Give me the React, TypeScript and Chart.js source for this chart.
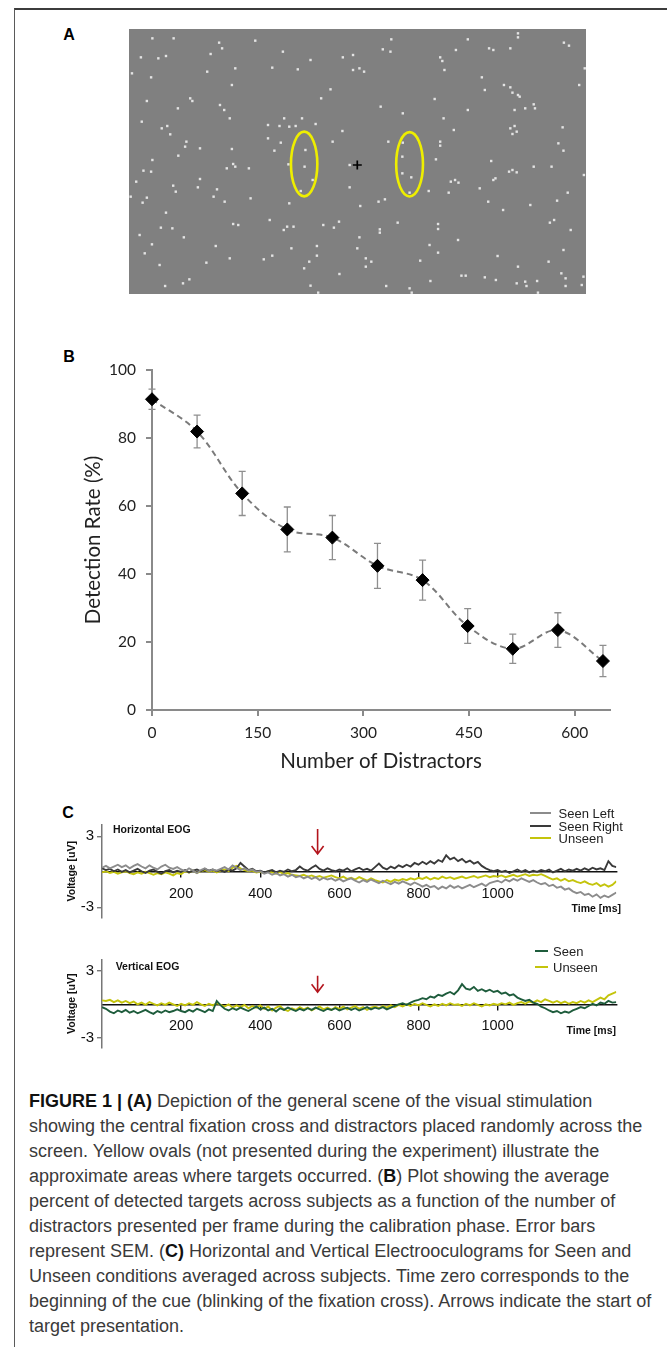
import React, { useEffect, useRef } from "react";
import { Chart, registerables } from "chart.js";

Chart.register(...registerables);

// ---------------- Panel A: stimulus scene (image coordinates of the screenshot) ----------------
const sceneXRange = [303, 1378];
const sceneYRange = [87, 882];
const distractorDots: [number, number][] = [
  [358, 115], [408, 115], [600, 122], [515, 128], [522, 145], [920, 118], [1100, 118], [1218, 100], [1218, 112], [1326, 128], [1338, 137],
  [665, 155], [495, 162], [900, 148], [918, 155], [1072, 150], [1150, 145], [1160, 150], [1200, 145], [806, 172], [830, 165], [331, 172], [372, 175], [390, 168], [730, 180], [1035, 172], [1040, 183],
  [310, 220], [487, 215], [553, 205], [640, 203], [700, 208], [830, 210], [845, 205], [856, 215], [1045, 210], [1375, 205],
  [355, 232], [1133, 232], [545, 255], [777, 268], [1140, 270], [1185, 255], [1200, 262], [1205, 278], [1218, 285], [1222, 290], [1362, 255],
  [345, 303], [447, 295], [452, 303], [755, 295], [1022, 297], [517, 315], [527, 330], [418, 325], [895, 320], [1100, 330], [1210, 330], [1235, 325], [1255, 313], [1258, 325],
  [540, 355], [333, 365], [630, 375], [657, 378], [668, 355], [680, 380], [695, 378], [710, 355], [742, 372], [947, 340], [1043, 355], [1200, 385], [1210, 378], [1215, 395], [1205, 402], [1323, 382], [380, 385], [393, 378], [400, 403], [805, 393], [1067, 390],
  [438, 425], [435, 440], [630, 415], [660, 428], [782, 425], [913, 425], [947, 428], [1035, 425], [1035, 437], [1313, 430], [1325, 452], [470, 445], [545, 447], [645, 452], [718, 450], [419, 467],
  [358, 480], [548, 492], [553, 500], [533, 505], [585, 505], [678, 493], [716, 500], [822, 495], [1025, 478], [1155, 483], [1197, 515], [1205, 510], [1215, 517], [1255, 500], [1297, 500], [1373, 525], [337, 512], [355, 515],
  [946, 470], [946, 520], [967, 532], [963, 578], [707, 573],
  [320, 545], [470, 537], [465, 562], [735, 540], [1060, 545], [1070, 540], [1078, 548], [1165, 535], [1160, 540], [822, 562], [407, 557], [413, 575], [510, 568], [502, 590], [1128, 565],
  [1008, 573], [1055, 578], [1335, 578], [307, 590], [345, 593], [335, 608], [528, 605], [589, 595], [680, 610], [890, 605], [905, 598], [847, 618], [1148, 605], [1247, 615], [1310, 602],
  [390, 638], [634, 660], [1183, 630], [548, 672], [560, 675], [760, 675], [785, 683], [797, 665], [667, 690], [675, 680], [690, 680], [893, 688], [893, 698], [935, 668], [1030, 672], [1030, 687], [1293, 668], [1303, 660], [378, 683], [405, 685], [1342, 690],
  [328, 705], [432, 712], [845, 712], [1077, 720], [357, 733], [507, 738], [685, 745], [745, 738], [745, 767], [840, 745], [1010, 735], [1325, 750], [1030, 758], [340, 760],
  [540, 775], [620, 778], [640, 767], [727, 785], [860, 775], [860, 800], [873, 785], [988, 782], [1170, 768], [1290, 785], [375, 795], [485, 788],
  [715, 805], [1218, 800], [798, 822], [1085, 827], [1095, 827], [1140, 832], [1320, 820], [1330, 835], [1372, 830], [1368, 855], [1012, 843], [1166, 840], [430, 850], [445, 838], [388, 858], [730, 857], [1215, 850], [1235, 845], [1238, 858], [1263, 843], [1330, 858], [908, 858], [963, 865],
  [748, 878], [968, 878], [1265, 878],
];
const fixationCross: [number, number][] = [[840, 495]];
// target regions: centre x, centre y, half-width, half-height (image coordinates)
const targetRegions: [number, number, number, number][] = [
  [715, 492, 31, 97],
  [963, 493, 31.5, 96.5],
];

// ---------------- Panel B: detection rate ----------------
const distractorCounts = [0, 64, 128, 192, 256, 320, 384, 448, 512, 576, 640];
const detectionRate = [91.4, 81.9, 63.7, 53.1, 50.7, 42.4, 38.2, 24.7, 18.0, 23.5, 14.4];
const detectionSem = [3.0, 4.8, 6.5, 6.6, 6.5, 6.6, 5.9, 5.1, 4.3, 5.1, 4.6];
const rateTicks = [0, 20, 40, 60, 80, 100];
const distractorTicks = [0, 150, 300, 450, 600];

// ---------------- Panel C: EOG traces (µV, sampled every 10 ms from 0 ms) ----------------
const eogStartMs = 0;
const eogStepMs = 10;
const eogTimeTicks = [200, 400, 600, 800, 1000];
const eogVoltTicks = [-3, 3];
const targetOnsetMs = 545;

const hSeenLeft = [
  0.35, 0.5, 0.3, 0.45, 0.6, 0.4, 0.55, 0.3, 0.5, 0.65,
  0.45, 0.3, 0.55, 0.35, 0.2, 0.45, 0.6, 0.35, 0.25, 0.4,
  0.2, 0.05, 0.3, 0.1, -0.1, 0.15, 0.3, 0.05, 0.2, 0.1,
  0.25, 0.4, 0.2, 0.55, 0.35, 0.15, 0.3, 0.1, 0.2, 0.0,
  0.05, -0.15, -0.05, -0.25, -0.1, -0.3, -0.2, -0.4, -0.25, -0.45,
  -0.35, -0.55, -0.4, -0.6, -0.45, -0.7, -0.5, -0.65, -0.55, -0.75,
  -0.6, -0.8, -0.65, -0.55, -0.75, -0.9, -0.7, -0.85, -0.65, -0.8,
  -0.95, -0.75, -0.9, -1.05, -0.85, -1.0, -0.8, -0.95, -1.1, -0.9,
  -1.05, -1.25, -1.1, -1.3, -1.2, -1.45, -1.25, -1.4, -1.15, -1.35,
  -1.2, -1.4, -1.25, -1.1, -1.3, -1.15, -1.0, -1.2, -0.95, -0.85,
  -0.75, -0.9, -0.65, -0.8, -0.6, -0.75, -0.55, -0.7, -0.85, -0.7,
  -0.9, -1.05, -0.95, -1.2, -1.1, -1.35, -1.25, -1.5, -1.4, -1.65,
  -1.8, -1.7, -1.95, -1.85, -2.1, -1.9, -2.2, -2.0, -2.15, -1.95, -1.75,
];
const hSeenRight = [
  0.3, 0.15, 0.25, 0.05, 0.2, 0.0, 0.15, -0.05, 0.1, 0.25,
  0.05, -0.1, 0.1, 0.2, 0.0, -0.15, 0.05, 0.15, -0.05, 0.1,
  0.0, 0.15, -0.05, 0.1, 0.2, 0.05, 0.25, 0.1, 0.2, 0.05,
  0.15, 0.0, 0.2, 0.1, 0.3, 0.75, 0.45, 0.15, 0.25, 0.05,
  0.1, -0.05, 0.05, 0.15, -0.05, 0.1, 0.0, 0.2, 0.05, 0.15,
  0.45, 0.2, 0.1, 0.35, 0.55, 0.25, 0.1, 0.3, 0.15, 0.05,
  0.2, 0.1, 0.3, 0.05, 0.2, 0.35, 0.15, 0.25, 0.1, 0.4,
  0.7, 0.35, 0.2, 0.45, 0.3, 0.55, 0.4, 0.6, 0.45, 0.75,
  0.6, 0.85, 0.65, 0.9, 0.7, 1.0, 0.85, 1.4, 1.05, 1.2,
  0.9, 1.1, 0.8, 0.95, 0.7, 0.85, 0.5, 0.3, 0.15, 0.05,
  0.15, 0.0, 0.1, -0.1, 0.05, 0.2, 0.0, 0.15, -0.05, 0.1,
  0.0, 0.15, 0.05, 0.2, -0.05, 0.1, 0.25, 0.05, 0.2, 0.1,
  0.25, 0.1, 0.3, 0.15, 0.35, 0.2, 0.3, 0.15, 0.9, 0.5, 0.4,
];
const hUnseen = [
  -0.05, 0.05, -0.1, 0.0, -0.15, -0.05, 0.05, -0.1, -0.2, -0.05,
  -0.15, 0.0, -0.1, -0.25, -0.1, -0.2, -0.05, -0.15, -0.3, -0.1,
  -0.2, 0.05, -0.05, 0.1, -0.1, 0.05, 0.15, 0.0, 0.1, -0.05,
  0.1, 0.2, 0.05, 0.35, 0.5, 0.3, 0.15, 0.05, 0.1, -0.05,
  0.0, -0.1, 0.05, -0.05, -0.15, 0.0, -0.2, -0.1, -0.25, -0.3,
  -0.35, -0.25, -0.4, -0.3, -0.45, -0.35, -0.5, -0.4, -0.3, -0.45,
  -0.55, -0.4, -0.6, -0.5, -0.65, -0.45, -0.6, -0.75, -0.55, -0.7,
  -0.8, -0.9, -0.7, -0.85, -0.65, -0.75, -0.6, -0.7, -0.55, -0.65,
  -0.5, -0.6, -0.45, -0.65, -0.5, -0.6, -0.4, -0.55, -0.45, -0.6,
  -0.5, -0.4, -0.55, -0.45, -0.35, -0.5, -0.4, -0.3, -0.45, -0.35,
  -0.4, -0.3, -0.45, -0.35, -0.25, -0.4, -0.3, -0.2, -0.35, -0.25,
  -0.3, -0.2, -0.35, -0.5, -0.65, -0.55, -0.75, -0.6, -0.8, -0.7,
  -0.85, -0.95, -0.8, -1.0, -1.1, -0.95, -1.2, -1.05, -1.25, -1.1, -0.8,
];
const vSeen = [
  -0.25, -0.4, -0.65, -0.8, -0.55, -0.7, -0.5, -0.75, -0.6, -0.8,
  -0.65, -0.5, -0.7, -0.85, -0.6, -0.75, -0.55, -0.7, -0.6, -0.45,
  -0.6, -0.7, -0.5, -0.65, -0.4, -0.55, -0.7, -0.45, -0.6, 0.3,
  -0.1, -0.4, -0.55, -0.35, -0.5, -0.3, -0.45, -0.6, -0.4, -0.2,
  -0.45, -0.3, -0.55, -0.4, -0.65, -0.35, -0.5, -0.3, -0.45, -0.6,
  -0.4, -0.55, -0.35, -0.5, -0.3, -0.45, -0.6, -0.4, -0.5, -0.35,
  -0.55, -0.4, -0.3, -0.5, -0.35, -0.55, -0.4, -0.25, -0.45, -0.3,
  -0.4, -0.25, -0.45, -0.3, -0.15, 0.0, 0.1, -0.05, 0.15, 0.3,
  0.4, 0.55, 0.45, 0.7, 0.6, 0.85, 0.75, 0.95, 1.1, 0.9,
  1.25, 1.8, 1.4, 1.3, 1.55, 1.2, 1.35, 1.15, 1.3, 1.1,
  1.2, 0.95, 1.05, 0.8, 0.9, 0.6, 0.45, 0.3, 0.4, 0.15,
  0.05, -0.2, -0.35, -0.55, -0.7, -0.6, -0.8, -0.65, -0.75, -0.55,
  -0.4, -0.25, -0.35, -0.15, 0.05, -0.1, 0.15, 0.05, 0.3, 0.15, 0.2,
];
const vUnseen = [
  0.35, 0.3, 0.4, 0.2, 0.35, 0.15, 0.3, 0.1, 0.25, 0.0,
  0.15, -0.05, 0.2, 0.05, -0.1, 0.1, -0.05, 0.15, 0.0, -0.15,
  0.05, -0.1, 0.1, -0.05, 0.2, 0.0, -0.15, 0.05, -0.1, 0.1,
  -0.05, -0.2, 0.0, -0.3, -0.1, -0.25, -0.05, -0.35, -0.15, -0.3,
  -0.1, -0.4, -0.2, -0.55, -0.3, -0.15, -0.45, -0.6, -0.35, -0.5,
  -0.25, -0.45, -0.3, -0.55, -0.35, -0.2, -0.45, -0.3, -0.5, -0.25,
  -0.4, -0.2, -0.45, -0.3, -0.15, -0.4, -0.25, -0.5, -0.3, -0.2,
  -0.35, -0.15, -0.3, -0.1, -0.25, -0.05, -0.2, 0.0, -0.15, 0.05,
  -0.1, 0.1, -0.05, -0.2, 0.0, -0.15, 0.05, -0.1, 0.1, -0.05,
  0.0, -0.15, 0.05, -0.1, 0.1, -0.05, -0.2, 0.0, -0.1, 0.05,
  -0.05, 0.1, 0.0, 0.15, -0.05, 0.1, 0.2, 0.05, 0.25, 0.15,
  0.35, 0.2, 0.45, 0.3, 0.15, 0.3, 0.1, 0.25, 0.05, 0.2,
  0.1, 0.3, 0.15, 0.35, 0.2, 0.4, 0.6, 0.45, 0.8, 0.95, 1.1,
];

const COLORS = {
  seenLeft: "#8c8c8c",
  seenRight: "#3a3a3a",
  unseen: "#c4c40c",
  seen: "#1e5c3c",
  arrow: "#b3141c",
};

const SANS = "'Liberation Sans', Arial, sans-serif";
const CALIBRI = "Lato, 'Open Sans', sans-serif";

// ---------------- plugins ----------------
const sceneBackground = {
  id: "sceneBackground",
  beforeDraw(chart: any) {
    const { ctx, chartArea } = chart;
    ctx.save();
    ctx.fillStyle = "#808080";
    ctx.fillRect(chartArea.left, chartArea.top, chartArea.right - chartArea.left, chartArea.bottom - chartArea.top);
    ctx.restore();
  },
};

const targetOvals = {
  id: "targetOvals",
  afterDatasetsDraw(chart: any) {
    const { ctx, scales } = chart;
    const { x, y } = scales;
    ctx.save();
    ctx.strokeStyle = "#eeee00";
    ctx.lineWidth = 2.6;
    targetRegions.forEach(([cx, cy, rx, ry]) => {
      const px = x.getPixelForValue(cx);
      const py = y.getPixelForValue(cy);
      const prx = Math.abs(x.getPixelForValue(cx + rx) - px);
      const pry = Math.abs(y.getPixelForValue(cy + ry) - py);
      ctx.beginPath();
      ctx.ellipse(px, py, prx, pry, 0, 0, Math.PI * 2);
      ctx.stroke();
    });
    ctx.restore();
  },
};

const semBars = {
  id: "semBars",
  beforeDatasetsDraw(chart: any) {
    const { ctx, scales } = chart;
    const { x, y } = scales;
    ctx.save();
    ctx.strokeStyle = "#8f8f8f";
    ctx.lineWidth = 1.3;
    const cap = 3.5;
    distractorCounts.forEach((c, i) => {
      const px = x.getPixelForValue(c);
      const top = y.getPixelForValue(detectionRate[i] + detectionSem[i]);
      const bot = y.getPixelForValue(detectionRate[i] - detectionSem[i]);
      ctx.beginPath();
      ctx.moveTo(px, top);
      ctx.lineTo(px, bot);
      ctx.moveTo(px - cap, top);
      ctx.lineTo(px + cap, top);
      ctx.moveTo(px - cap, bot);
      ctx.lineTo(px + cap, bot);
      ctx.stroke();
    });
    ctx.restore();
  },
};

const onsetArrow = {
  id: "onsetArrow",
  afterDatasetsDraw(chart: any, _args: any, opts: any) {
    const { ctx, scales } = chart;
    const { x, y } = scales;
    const px = x.getPixelForValue(opts.time);
    const pTop = y.getPixelForValue(opts.from);
    const pTip = y.getPixelForValue(opts.to);
    ctx.save();
    ctx.strokeStyle = COLORS.arrow;
    ctx.lineWidth = 1.6;
    ctx.beginPath();
    ctx.moveTo(px, pTop);
    ctx.lineTo(px, pTip);
    ctx.moveTo(px - 6, pTip - 8);
    ctx.lineTo(px, pTip);
    ctx.lineTo(px + 6, pTip - 8);
    ctx.stroke();
    ctx.restore();
  },
};

// ---------------- configs ----------------
function sceneConfig(): any {
  return {
    type: "scatter",
    data: {
      datasets: [
        {
          data: distractorDots.map(([x, y]) => ({ x, y })),
          pointStyle: "rect",
          pointRadius: 1.7,
          backgroundColor: "#e4e4e4",
          borderWidth: 0,
        },
        {
          data: fixationCross.map(([x, y]) => ({ x, y })),
          pointStyle: "cross",
          pointRadius: 4.5,
          borderColor: "#000",
          borderWidth: 1.7,
        },
      ],
    },
    options: {
      animation: false,
      responsive: false,
      events: [],
      layout: { padding: 0, autoPadding: false },
      plugins: { legend: { display: false }, tooltip: { enabled: false } },
      scales: {
        x: { type: "linear", display: false, min: sceneXRange[0], max: sceneXRange[1] },
        y: { type: "linear", display: false, min: sceneYRange[0], max: sceneYRange[1], reverse: true },
      },
    },
    plugins: [sceneBackground, targetOvals],
  };
}

function detectionConfig(): any {
  const axisGray = "#8a8a8a";
  return {
    type: "scatter",
    data: {
      datasets: [
        {
          label: "Detection Rate",
          data: distractorCounts.map((c, i) => ({ x: c, y: detectionRate[i] })),
          showLine: true,
          borderColor: "#7a7a7a",
          borderWidth: 2,
          borderDash: [6, 4],
          tension: 0.35,
          pointStyle: "rectRot",
          pointRadius: 6.5,
          pointBackgroundColor: "#000",
          pointBorderColor: "#000",
          pointBorderWidth: 1,
          clip: false,
        },
      ],
    },
    options: {
      animation: false,
      responsive: false,
      events: [],
      layout: { padding: { top: 40, right: 20, left: 0, bottom: 0 }, autoPadding: false },
      plugins: { legend: { display: false }, tooltip: { enabled: false } },
      scales: {
        x: {
          type: "linear",
          min: 0,
          max: 650,
          afterBuildTicks: (s: any) => {
            s.ticks = distractorTicks.map((v) => ({ value: v }));
          },
          afterFit: (s: any) => {
            s.height = 70;
          },
          grid: { drawOnChartArea: false, drawTicks: true, tickLength: 6, color: axisGray, lineWidth: 2 },
          border: { display: true, color: axisGray, width: 2 },
          ticks: { font: { family: CALIBRI, size: 15.5 }, color: "#222", padding: 7.7, maxRotation: 0, autoSkip: false },
          title: {
            display: true,
            text: "Number of Distractors",
            font: { family: CALIBRI, size: 20.5 },
            color: "#222",
            padding: { top: 0, bottom: 6.7 },
          },
        },
        y: {
          type: "linear",
          min: 0,
          max: 100,
          afterBuildTicks: (s: any) => {
            s.ticks = rateTicks.map((v) => ({ value: v }));
          },
          afterFit: (s: any) => {
            s.width = 92;
          },
          grid: { drawOnChartArea: false, drawTicks: true, tickLength: 6, color: axisGray, lineWidth: 2 },
          border: { display: true, color: axisGray, width: 2 },
          ticks: { font: { family: CALIBRI, size: 15.5 }, color: "#222", padding: 10 },
          title: {
            display: true,
            text: "Detection Rate (%)",
            font: { family: CALIBRI, size: 20.5 },
            color: "#222",
            padding: { top: 20.7, bottom: 0 },
          },
        },
      },
    },
    plugins: [semBars],
  };
}

function eogConfig(series: { label: string; values: number[]; color: string }[], arrow: { from: number; to: number }): any {
  return {
    type: "scatter",
    data: {
      datasets: series.map((s) => ({
        label: s.label,
        data: s.values.map((v, i) => ({ x: eogStartMs + i * eogStepMs, y: v })),
        showLine: true,
        borderColor: s.color,
        borderWidth: 1.9,
        pointRadius: 0,
        tension: 0,
      })),
    },
    options: {
      animation: false,
      responsive: false,
      events: [],
      layout: { padding: { top: 24.5, right: 23.7, left: 0, bottom: 11.5 }, autoPadding: false },
      plugins: {
        legend: { display: false },
        tooltip: { enabled: false },
        onsetArrow: { time: targetOnsetMs, from: arrow.from, to: arrow.to },
      },
      scales: {
        x: {
          type: "linear",
          min: 0,
          max: 1300,
          position: { y: 0 },
          afterBuildTicks: (s: any) => {
            s.ticks = eogTimeTicks.map((v) => ({ value: v }));
          },
          grid: { drawOnChartArea: false, drawTicks: true, tickLength: 5, color: "#111", lineWidth: 1.4 },
          border: { display: true, color: "#111", width: 1.5 },
          ticks: {
            font: { family: SANS, size: 14.5 },
            color: "#111",
            padding: 8.3,
            maxRotation: 0,
            autoSkip: false,
            callback: (v: any) => String(v),
          },
        },
        y: {
          type: "linear",
          min: -3.9,
          max: 4.0,
          position: "left",
          afterBuildTicks: (s: any) => {
            s.ticks = eogVoltTicks.map((v) => ({ value: v }));
          },
          afterFit: (s: any) => {
            s.width = 42;
          },
          grid: { drawOnChartArea: false, drawTicks: true, tickLength: 5, color: "#777", lineWidth: 1.4 },
          border: { display: true, color: "#777", width: 1.5 },
          ticks: { font: { family: SANS, size: 15 }, color: "#111", padding: 3, callback: (v: any) => String(v) },
          title: {
            display: true,
            text: "Voltage [uV]",
            font: { family: SANS, size: 10.5, weight: "bold" },
            color: "#111",
            padding: { top: 5.7, bottom: 0 },
          },
        },
      },
    },
    plugins: [onsetArrow],
  };
}

// ---------------- components ----------------
function ChartCanvas(props: { left: number; top: number; width: number; height: number; make: () => any }) {
  const ref = useRef<HTMLCanvasElement>(null);
  useEffect(() => {
    const chart = new Chart(ref.current as HTMLCanvasElement, props.make());
    return () => chart.destroy();
  }, []);
  return (
    <canvas
      ref={ref}
      width={props.width}
      height={props.height}
      style={{ position: "absolute", left: props.left, top: props.top, width: props.width, height: props.height }}
    />
  );
}

function Text(props: { x: number; y: number; anchor?: "left" | "center" | "right"; style?: React.CSSProperties; children: React.ReactNode }) {
  const tx = props.anchor === "center" ? "-50%" : props.anchor === "right" ? "-100%" : "0";
  return (
    <div
      style={{
        position: "absolute",
        left: props.x,
        top: props.y,
        transform: `translate(${tx}, -50%)`,
        whiteSpace: "nowrap",
        lineHeight: 1,
        ...props.style,
      }}
    >
      {props.children}
    </div>
  );
}

function LegendRow(props: { lineX0: number; lineX1: number; textX: number; y: number; color: string; label: string }) {
  return (
    <>
      <div
        style={{
          position: "absolute",
          left: props.lineX0,
          top: props.y - 1,
          width: props.lineX1 - props.lineX0,
          height: 2,
          background: props.color,
        }}
      />
      <Text x={props.textX} y={props.y} style={{ fontFamily: SANS, fontSize: 13, color: "#222" }}>
        {props.label}
      </Text>
    </>
  );
}

const panelLetter: React.CSSProperties = { fontFamily: SANS, fontWeight: "bold", fontSize: 16, color: "#000" };
const smallBold: React.CSSProperties = { fontFamily: SANS, fontWeight: "bold", fontSize: 10.5, color: "#111" };

export default function App() {
  const captionLines: React.ReactNode[] = [
    <>
      <b style={{ color: "#111" }}>FIGURE 1 | (A)</b> Depiction of the general scene of the visual stimulation
    </>,
    <>showing the central fixation cross and distractors placed randomly across the</>,
    <>screen. Yellow ovals (not presented during the experiment) illustrate the</>,
    <>
      approximate areas where targets occurred. (<b style={{ color: "#111" }}>B</b>) Plot showing the average
    </>,
    <>percent of detected targets across subjects as a function of the number of</>,
    <>distractors presented per frame during the calibration phase. Error bars</>,
    <>
      represent SEM. (<b style={{ color: "#111" }}>C)</b> Horizontal and Vertical Electrooculograms for Seen and
    </>,
    <>Unseen conditions averaged across subjects. Time zero corresponds to the</>,
    <>beginning of the cue (blinking of the fixation cross). Arrows indicate the start of</>,
    <>target presentation.</>,
  ];

  return (
    <div style={{ position: "fixed", left: 0, top: 0, width: 667, height: 1347, overflow: "hidden", background: "#fff" }}>
      {/* figure frame */}
      <div
        style={{
          position: "absolute",
          left: 13.5,
          top: 8,
          width: 720,
          height: 1400,
          borderTop: "2px solid #3c3c3c",
          borderLeft: "1.5px solid #5a5a5a",
        }}
      />

      {/* Panel A */}
      <Text x={69} y={35} anchor="center" style={panelLetter}>A</Text>
      <ChartCanvas left={129} top={29} width={457} height={265} make={sceneConfig} />

      {/* Panel B */}
      <Text x={69} y={357} anchor="center" style={panelLetter}>B</Text>
      <ChartCanvas left={60} top={330} width={570} height={450} make={detectionConfig} />

      {/* Panel C */}
      <Text x={68} y={813} anchor="center" style={panelLetter}>C</Text>
      <ChartCanvas
        left={60}
        top={800}
        width={580}
        height={130}
        make={() =>
          eogConfig(
            [
              { label: "Seen Left", values: hSeenLeft, color: COLORS.seenLeft },
              { label: "Seen Right", values: hSeenRight, color: COLORS.seenRight },
              { label: "Unseen", values: hUnseen, color: COLORS.unseen },
            ],
            { from: 3.63, to: 1.51 }
          )
        }
      />
      <Text x={113} y={829} style={smallBold}>Horizontal EOG</Text>
      <Text x={621} y={908} anchor="right" style={smallBold}>Time [ms]</Text>
      <LegendRow lineX0={530} lineX1={551} textX={558.6} y={813} color={COLORS.seenLeft} label="Seen Left" />
      <LegendRow lineX0={530} lineX1={551} textX={558.6} y={825.7} color={COLORS.seenRight} label="Seen Right" />
      <LegendRow lineX0={530} lineX1={551} textX={558.6} y={838.3} color={COLORS.unseen} label="Unseen" />

      <ChartCanvas
        left={60}
        top={935}
        width={580}
        height={125}
        make={() =>
          eogConfig(
            [
              { label: "Seen", values: vSeen, color: COLORS.seen },
              { label: "Unseen", values: vUnseen, color: COLORS.unseen },
            ],
            { from: 2.56, to: 1.08 }
          )
        }
      />
      <Text x={115.7} y={966} style={smallBold}>Vertical EOG</Text>
      <Text x={616} y={1030} anchor="right" style={smallBold}>Time [ms]</Text>
      <LegendRow lineX0={535} lineX1={548} textX={553} y={950.7} color={COLORS.seen} label="Seen" />
      <LegendRow lineX0={535} lineX1={548} textX={553} y={966.7} color={COLORS.unseen} label="Unseen" />

      {/* Caption */}
      <div
        style={{
          position: "absolute",
          left: 29,
          top: 1088.5,
          fontFamily: SANS,
          fontSize: 18,
          lineHeight: "25px",
          color: "#3a3a3a",
        }}
      >
        {captionLines.map((line, i) => (
          <div key={i} style={{ whiteSpace: "nowrap" }}>
            {line}
          </div>
        ))}
      </div>
    </div>
  );
}
